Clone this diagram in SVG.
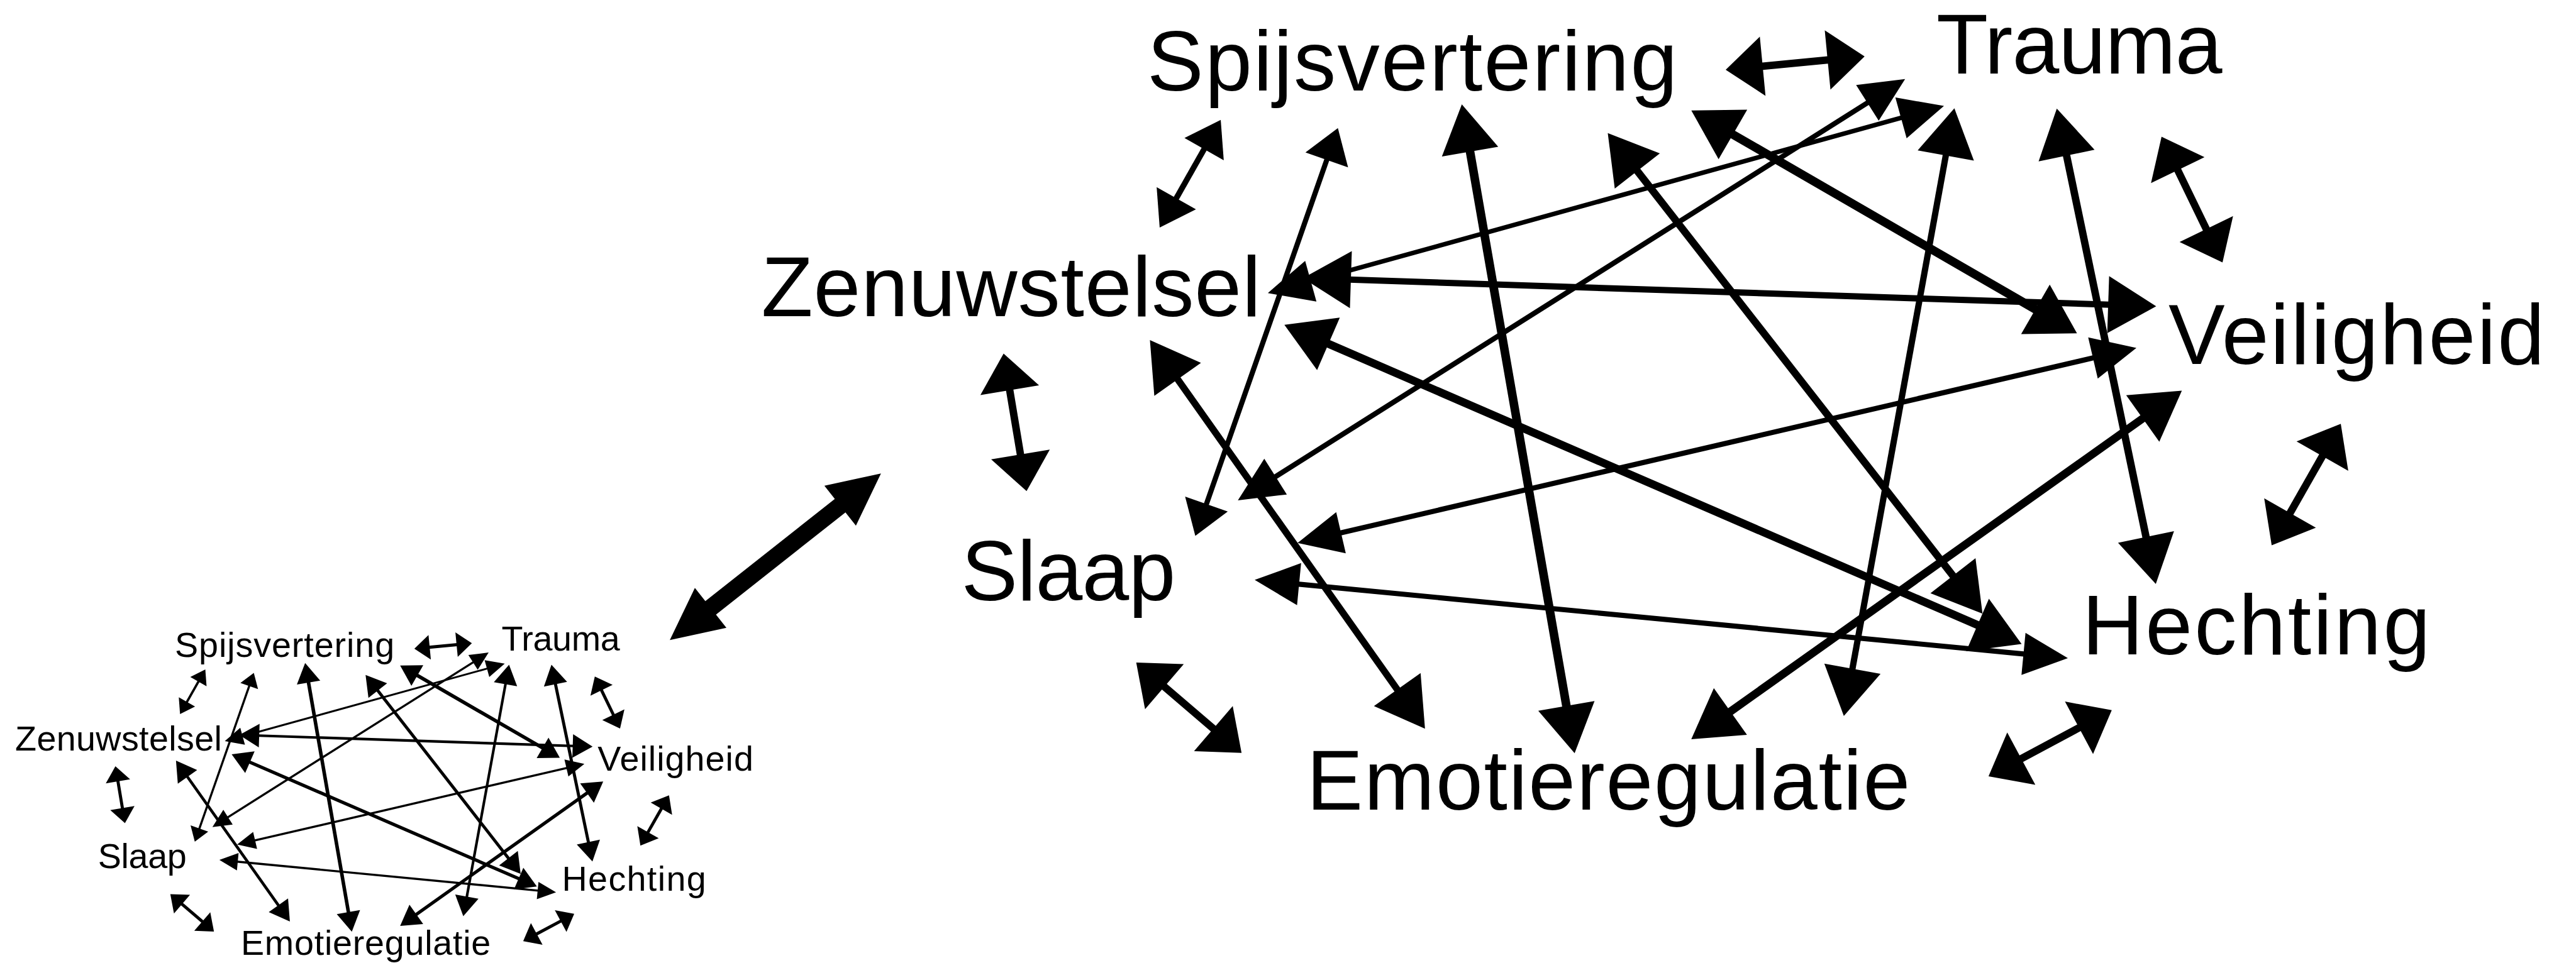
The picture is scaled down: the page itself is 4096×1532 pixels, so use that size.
<svg xmlns="http://www.w3.org/2000/svg" width="4096" height="1532" viewBox="0 0 4096 1532">
  <defs>
    <style>
      .lbl { font-family: "Liberation Sans", Arial, Helvetica, sans-serif; font-size: 148px; text-anchor: middle; fill: #000; }
      .e { fill: none; stroke: #000; stroke-linecap: butt; }
      .w8 { stroke-width: 8; } .w9 { stroke-width: 9; } .w10 { stroke-width: 10; } .w11 { stroke-width: 11; }
      .w12 { stroke-width: 12; } .w13 { stroke-width: 13; } .w14 { stroke-width: 14; } .w15 { stroke-width: 15; }
      .w30 { stroke-width: 30; }
      .hS { marker-start: url(#mS); marker-end: url(#mS); }
      .hT { marker-start: url(#mT); marker-end: url(#mT); }
      .hA { marker-start: url(#mA); marker-end: url(#mA); }
      .hB { marker-start: url(#mB); marker-end: url(#mB); }
      .hX { marker-start: url(#mX); marker-end: url(#mX); }
    </style>
    <!-- arrowheads: base at the path end, tip pointing outward -->
    <marker id="mS" markerUnits="userSpaceOnUse" orient="auto-start-reverse" markerWidth="65" markerHeight="104" refX="3" refY="52" overflow="visible">
      <path d="M0,0 L65,52 L0,104 Z" fill="#000"/>
    </marker>
    <marker id="mT" markerUnits="userSpaceOnUse" orient="auto-start-reverse" markerWidth="59" markerHeight="79" refX="3" refY="39.5" overflow="visible">
      <path d="M0,0 L59,39.5 L0,79 Z" fill="#000"/>
    </marker>
    <marker id="mA" markerUnits="userSpaceOnUse" orient="auto-start-reverse" markerWidth="78" markerHeight="74" refX="3" refY="37" overflow="visible">
      <path d="M0,0 L78,37 L0,74 Z" fill="#000"/>
    </marker>
    <marker id="mB" markerUnits="userSpaceOnUse" orient="auto-start-reverse" markerWidth="84" markerHeight="100" refX="3" refY="50" overflow="visible">
      <path d="M0,0 L84,50 L0,100 Z" fill="#000"/>
    </marker>
    <marker id="mX" markerUnits="userSpaceOnUse" orient="auto-start-reverse" markerWidth="91" markerHeight="89" refX="3" refY="44.5" overflow="visible">
      <path d="M0,0 L91,44.5 L0,89 Z" fill="#000"/>
    </marker>
  </defs>

  <rect width="4096" height="1532" fill="#fff"/>

  <g transform="scale(0.90881)">

    <!-- large network -->
    <g id="graph-large">
      <g id="edges-large">
        <path class="e w13 hS" d="M3081.0 116.2 L3200.6 104.7"/>
        <path class="e w10 hT" d="M2108.2 258.5 L2056.6 349.6"/>
        <path class="e w13 hS" d="M1766.1 680.1 L1785.9 798.6"/>
        <path class="e w13 hS" d="M2035.0 1200.1 L2125.2 1277.5"/>
        <path class="e w13 hS" d="M3533.8 1329.5 L3640.1 1272.5"/>
        <path class="e w13 hS" d="M4005.2 900.6 L4064.8 795.8"/>
        <path class="e w13 hS" d="M3861.5 403.7 L3808.9 295.2"/>
        <path class="e w11 hB" d="M2360.5 489.5 L3691.5 533.4"/>
        <path class="e w8 hA" d="M2290.5 493.0 L3328.9 205.5"/>
        <path class="e w14 hB" d="M2321.5 600.7 L3462.7 1095.2"/>
        <path class="e w12 hB" d="M2058.7 661.5 L2446.4 1209.5"/>
        <path class="e w9 hT" d="M2322.3 277.1 L2109.8 885.1"/>
        <path class="e w15 hB" d="M2571.5 262.4 L2741.1 1238.7"/>
        <path class="e w13 hB" d="M2862.8 296.9 L3418.8 1010.2"/>
        <path class="e w15 hB" d="M3029.3 233.9 L3563.8 543.0"/>
        <path class="e w9 hA" d="M3269.8 178.4 L2229.2 835.9"/>
        <path class="e w11 hB" d="M3404.9 269.3 L3240.5 1173.5"/>
        <path class="e w13 hB" d="M3615.1 269.4 L3755.3 942.8"/>
        <path class="e w9 hA" d="M3664.8 625.9 L2343.3 933.3"/>
        <path class="e w14 hB" d="M3751.4 730.8 L3025.1 1247.2"/>
        <path class="e w9 hA" d="M3543.3 1145.0 L2269.9 1022.3"/>
      </g>
      <g id="node-spijsvertering"><text class="lbl" x="2471" y="158" textLength="928">Spijsvertering</text></g>
      <g id="node-trauma"><text class="lbl" x="3638" y="129" textLength="500">Trauma</text></g>
      <g id="node-zenuwstelsel"><text class="lbl" x="1769" y="554" textLength="874">Zenuwstelsel</text></g>
      <g id="node-veiligheid"><text class="lbl" x="4123" y="637" textLength="658">Veiligheid</text></g>
      <g id="node-slaap"><text class="lbl" x="1869.5" y="1051" textLength="375">Slaap</text></g>
      <g id="node-hechting"><text class="lbl" x="3947.5" y="1146" textLength="609">Hechting</text></g>
      <g id="node-emotieregulatie"><text class="lbl" x="2814" y="1417" textLength="1056">Emotieregulatie</text></g>
    </g>

    <!-- link between the small and the large network -->
    <g id="link">
      <path class="e w30 hX" d="M1241.0 1065.9 L1472.3 883.3"/>
    </g>

    <!-- small network: same layout at reduced size -->
    <g id="graph-small" transform="translate(-525 1085) scale(0.414)">
      <g id="edges-small">
        <path class="e w13 hS" d="M3081.0 116.2 L3200.6 104.7"/>
        <path class="e w10 hT" d="M2108.2 258.5 L2056.6 349.6"/>
        <path class="e w13 hS" d="M1766.1 680.1 L1785.9 798.6"/>
        <path class="e w13 hS" d="M2035.0 1200.1 L2125.2 1277.5"/>
        <path class="e w13 hS" d="M3533.8 1329.5 L3640.1 1272.5"/>
        <path class="e w13 hS" d="M4005.2 900.6 L4064.8 795.8"/>
        <path class="e w13 hS" d="M3861.5 403.7 L3808.9 295.2"/>
        <path class="e w11 hB" d="M2360.5 489.5 L3691.5 533.4"/>
        <path class="e w8 hA" d="M2290.5 493.0 L3328.9 205.5"/>
        <path class="e w14 hB" d="M2321.5 600.7 L3462.7 1095.2"/>
        <path class="e w12 hB" d="M2058.7 661.5 L2446.4 1209.5"/>
        <path class="e w9 hT" d="M2322.3 277.1 L2109.8 885.1"/>
        <path class="e w15 hB" d="M2571.5 262.4 L2741.1 1238.7"/>
        <path class="e w13 hB" d="M2862.8 296.9 L3418.8 1010.2"/>
        <path class="e w15 hB" d="M3029.3 233.9 L3563.8 543.0"/>
        <path class="e w9 hA" d="M3269.8 178.4 L2229.2 835.9"/>
        <path class="e w11 hB" d="M3404.9 269.3 L3240.5 1173.5"/>
        <path class="e w13 hB" d="M3615.1 269.4 L3755.3 942.8"/>
        <path class="e w9 hA" d="M3664.8 625.9 L2343.3 933.3"/>
        <path class="e w14 hB" d="M3751.4 730.8 L3025.1 1247.2"/>
        <path class="e w9 hA" d="M3543.3 1145.0 L2269.9 1022.3"/>
      </g>
      <g id="node-spijsvertering-small"><text class="lbl" x="2471" y="158" textLength="928">Spijsvertering</text></g>
      <g id="node-trauma-small"><text class="lbl" x="3638" y="129" textLength="500">Trauma</text></g>
      <g id="node-zenuwstelsel-small"><text class="lbl" x="1769" y="554" textLength="874">Zenuwstelsel</text></g>
      <g id="node-veiligheid-small"><text class="lbl" x="4123" y="637" textLength="658">Veiligheid</text></g>
      <g id="node-slaap-small"><text class="lbl" x="1869.5" y="1051" textLength="375">Slaap</text></g>
      <g id="node-hechting-small"><text class="lbl" x="3947.5" y="1146" textLength="609">Hechting</text></g>
      <g id="node-emotieregulatie-small"><text class="lbl" x="2814" y="1417" textLength="1056">Emotieregulatie</text></g>
    </g>

  </g>
</svg>
